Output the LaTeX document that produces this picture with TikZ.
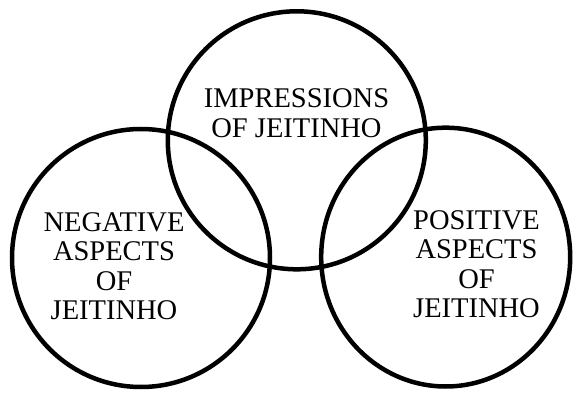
\documentclass[tikz,border=0pt]{standalone}
\usepackage{fontspec}
\setmainfont{Liberation Serif}
\usetikzlibrary{shapes.geometric}
\begin{document}
\begin{tikzpicture}[x=1pt,y=1pt,
  ring/.style={draw=black,line width=4.5pt,ellipse,inner sep=0pt,outer sep=0pt},
  label/.style={align=center,inner sep=0pt,font=\fontsize{28.5}{29.5}\selectfont}]
\useasboundingbox (0,0) rectangle (574,392);
\node[ring,minimum width=258pt,minimum height=258pt] (top) at (296.8,251.7) {};
\node[ring,minimum width=258pt,minimum height=258pt] (left) at (141,134) {};
\node[ring,minimum width=249pt,minimum height=258.8pt] (right) at (445.7,134.9) {};
\node[label] (timp) at (296.5,279) {IMPRESSIONS\\OF JEITINHO};
\node[label] (tneg) at (114,126) {NEGATIVE\\ASPECTS\\OF\\JEITINHO};
\node[label] (tpos) at (476.5,128) {POSITIVE\\ASPECTS\\OF\\JEITINHO};
\end{tikzpicture}
\end{document}
